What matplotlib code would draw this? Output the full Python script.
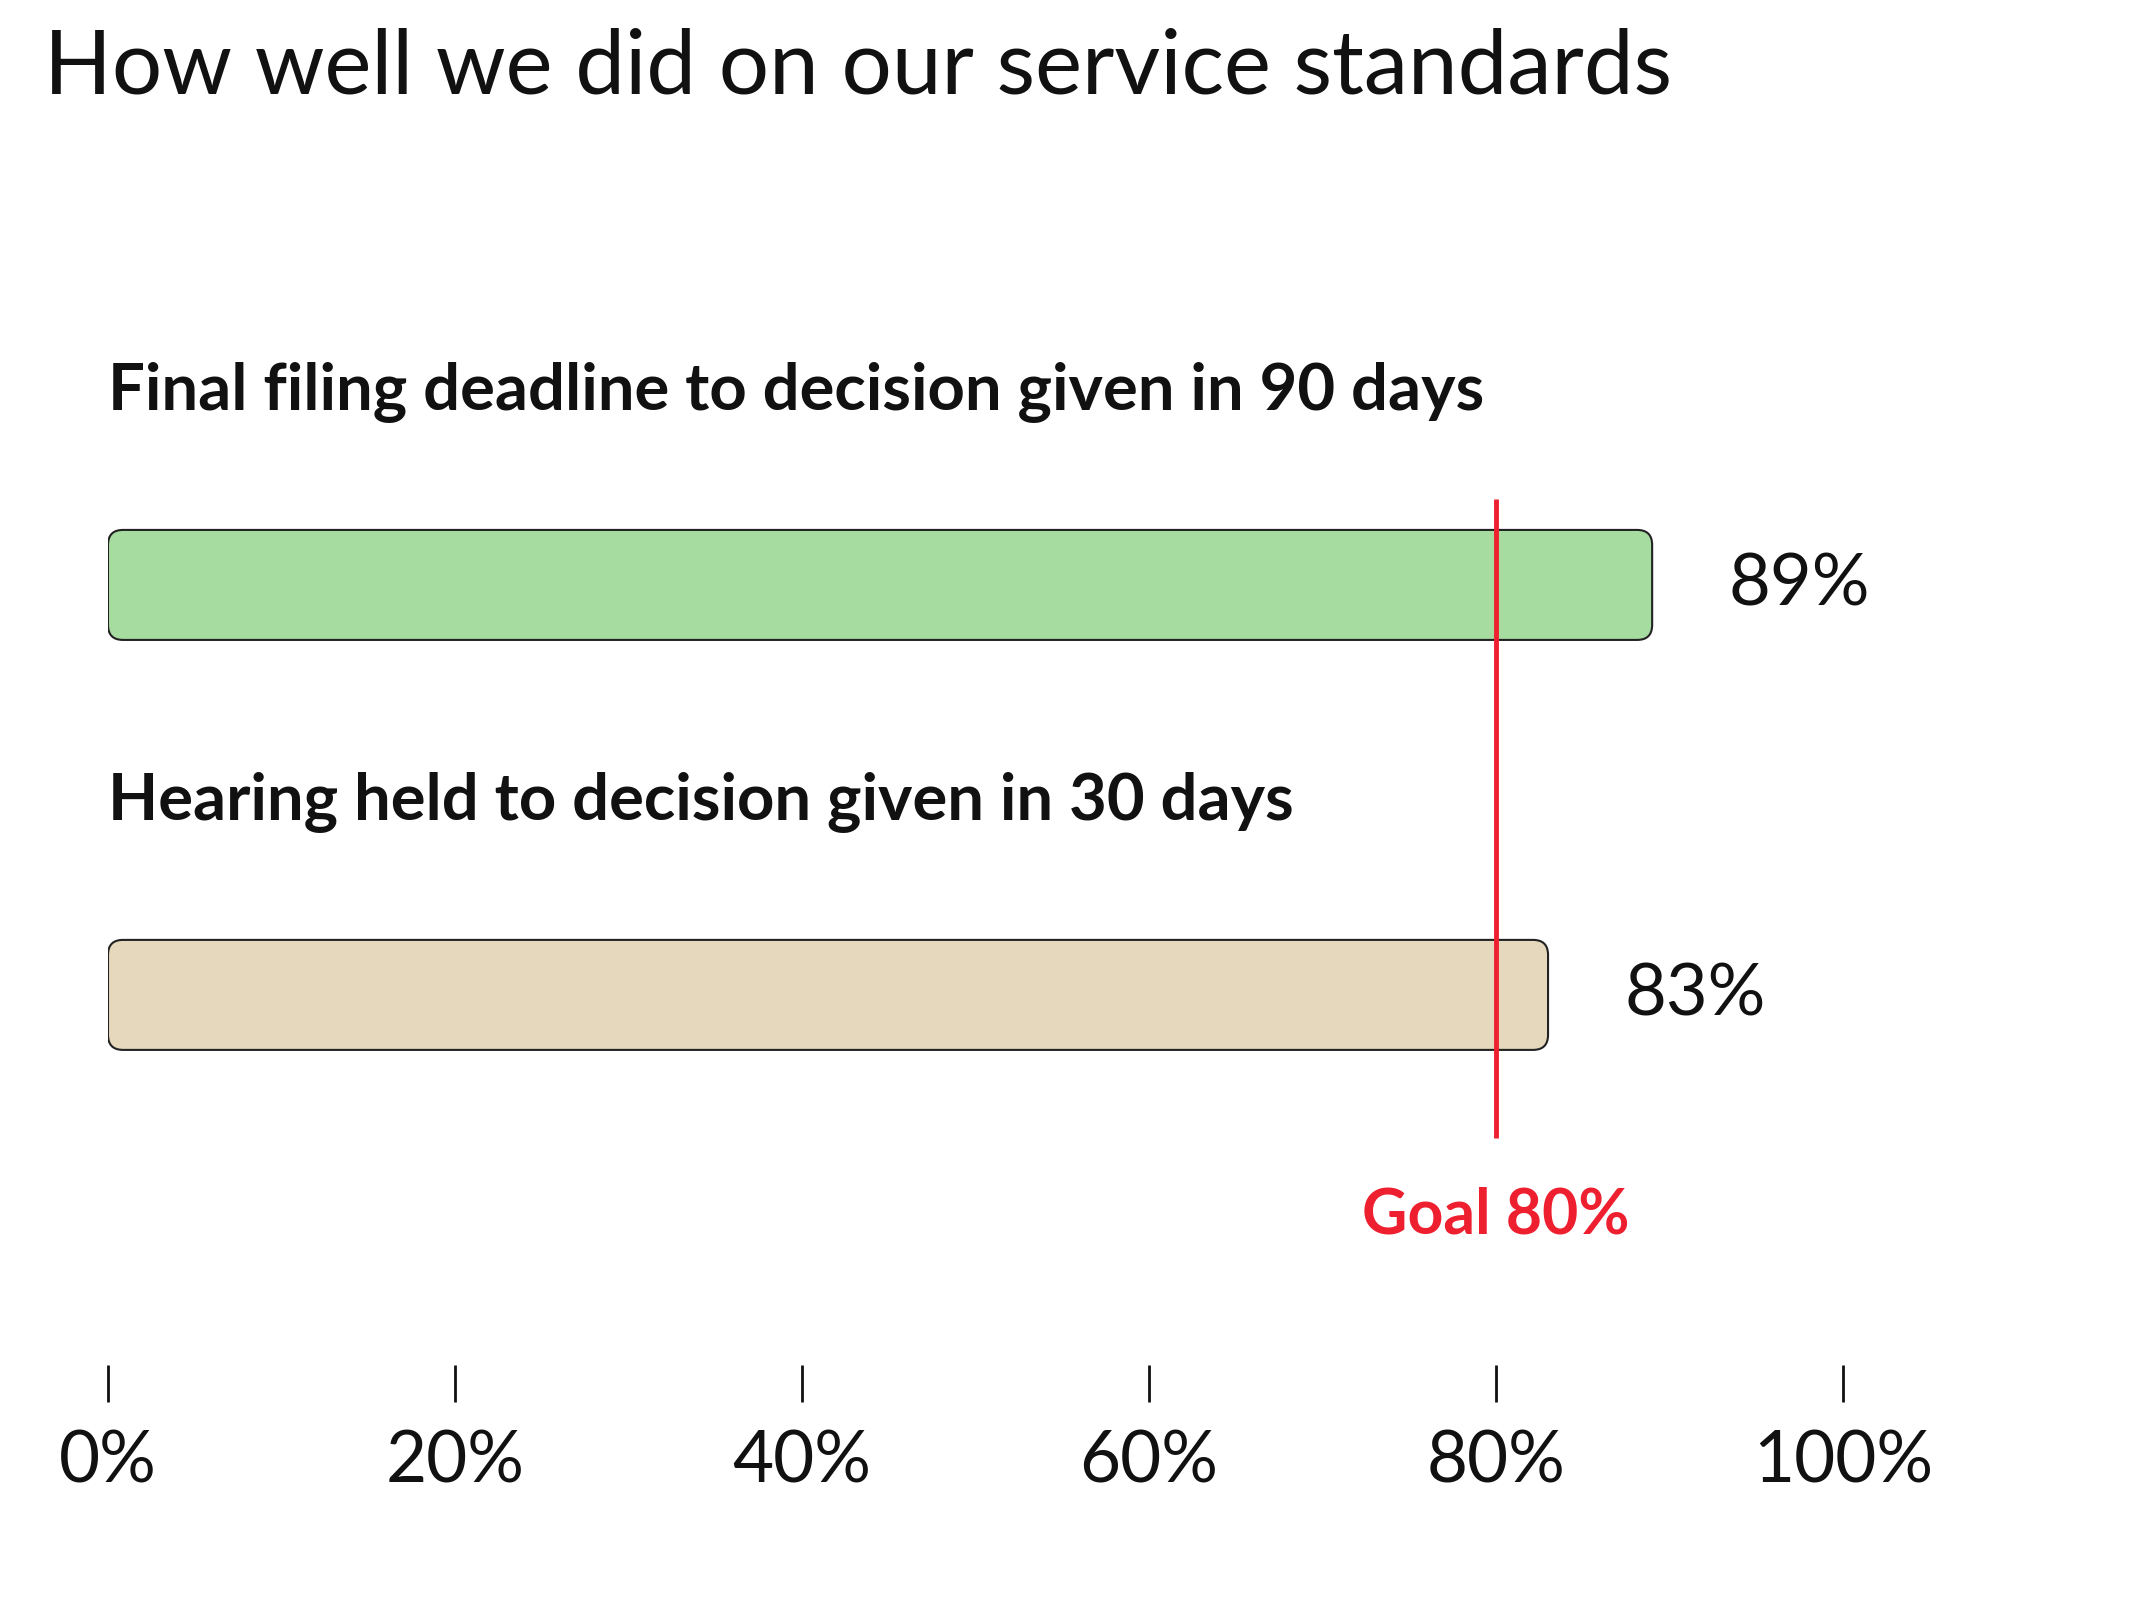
import matplotlib.pyplot as plt
from matplotlib.patches import FancyBboxPatch

# data
measures = ['Final filing deadline to decision given in 90 days',
            'Hearing held to decision given in 30 days']
results = [89, 83]
goal = 80
ticks = [0, 20, 40, 60, 80, 100]
tick_labels = ['0%', '20%', '40%', '60%', '80%', '100%']

bar_colors = ['#a6dca0', '#e5d8bc']
red = '#ee2030'
font = 'Lato'

W, H = 2134, 1600
fig = plt.figure(figsize=(W / 100, H / 100), dpi=100)

# axes: x 0..100 maps to px 108..1843, y spans px 300..1402
x0, x1 = 108, 1843
ax = fig.add_axes([x0 / W, 1 - 1402 / H, (x1 - x0) / W, (1402 - 300) / H])
ax.set_xlim(0, 100)
ax.set_ylim(1.993, -0.695)
for s in ax.spines.values():
    s.set_visible(False)
ax.set_yticks([])

px_x = 100 / (x1 - x0)
px_y = (1.993 + 0.695) / (1402 - 300)
bar_h = 110 * px_y

for i, (name, val) in enumerate(zip(measures, results)):
    box = FancyBboxPatch((0, i - bar_h / 2), val, bar_h,
                         boxstyle='round,pad=0,rounding_size=%f' % (15 * px_x),
                         mutation_aspect=px_y / px_x,
                         facecolor=bar_colors[i], edgecolor='#222222', linewidth=1.5,
                         zorder=2)
    ax.add_patch(box)
    ax.text(val + 76 * px_x, i, f'{val}%', ha='left', va='center',
            fontsize=52, family=font, color='#111111')
    ax.text(0, i - 0.47, name, ha='left', va='center',
            fontsize=47, family=font, fontweight='bold', color='#111111')

ax.vlines(goal, -0.21, 1.35, color=red, linewidth=3.5, zorder=3)
ax.text(goal, 1.537, f'Goal {goal}%', ha='center', va='center',
        fontsize=45, family=font, fontweight='bold', color=red)

ax.set_xticks(ticks)
ax.set_xticklabels(tick_labels, family=font, fontsize=51)
ax.tick_params(axis='x', direction='in', length=27, width=2, pad=20,
               color='#111111', labelcolor='#111111')

fig.text(44 / W, 1 - 68 / H, 'How well we did on our service standards',
         ha='left', va='center', fontsize=64, family=font, color='#111111')

fig.savefig('out.png', dpi=100)
